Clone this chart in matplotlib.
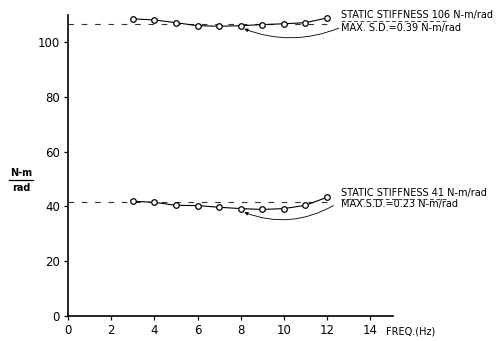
import matplotlib.pyplot as plt
from matplotlib.lines import Line2D

# Dynamic stiffness vs frequency (two test conditions)
freq = [3, 4, 5, 6, 7, 8, 9, 10, 11, 12]
stiff_high = [108.4, 108.0, 107.0, 105.9, 105.7, 105.9, 106.3, 106.6, 107.0, 108.7]
stiff_low = [41.9, 41.5, 40.4, 40.3, 39.7, 39.2, 38.9, 39.2, 40.4, 43.3]
static_high = 106.7
static_low = 41.5
x_ticks = [0, 2, 4, 6, 8, 10, 12, 14]
y_ticks = [0, 20, 40, 60, 80, 100]

plt.rcParams.update({'font.family': 'DejaVu Sans', 'font.size': 8})

fig = plt.figure(figsize=(4.97, 3.41), dpi=100)
ax = fig.add_axes([0.137, 0.073, 0.654, 0.883])

for vals, stat in [(stiff_high, static_high), (stiff_low, static_low)]:
    ax.plot([0, 12.3], [stat, stat], color='#333333', lw=0.8, dashes=(5, 7))
    ax.plot(freq, vals, '-', color='black', lw=0.8, marker='o', markersize=4,
            markerfacecolor='white', markeredgecolor='black', markeredgewidth=0.9)

ax.set_xlim(0, 15.07)
ax.set_ylim(0, 109.8)
ax.set_xticks(x_ticks)
ax.set_yticks(y_ticks)
for s in ['top', 'right']:
    ax.spines[s].set_visible(False)
for s in ['left', 'bottom']:
    ax.spines[s].set_linewidth(1.2)
ax.tick_params(axis='both', direction='out', length=3, width=0.9, labelsize=8.5, pad=3)

# annotations
txt = dict(fontsize=7, ha='left', va='center', clip_on=False)
ax.text(12.66, 109.8, 'STATIC STIFFNESS 106 N-m/rad', **txt)
ax.text(12.66, 105.0, 'MAX. S.D.=0.39 N-m/rad', **txt)
ax.text(12.66, 45.0, 'STATIC STIFFNESS 41 N-m/rad', **txt)
ax.text(12.66, 41.0, 'MAX.S.D.=0.23 N-m/rad', **txt)

arrow = dict(arrowstyle='-|>', color='black', lw=0.6, mutation_scale=5,
             connectionstyle='arc3,rad=-0.2', shrinkA=0, shrinkB=2)
ax.annotate('', xy=(8.05, 105.1), xytext=(12.55, 105.0), arrowprops=arrow,
            annotation_clip=False)
arrow['connectionstyle'] = 'arc3,rad=-0.24'
ax.annotate('', xy=(8.05, 38.2), xytext=(12.3, 40.3), arrowprops=arrow,
            annotation_clip=False)

# dashed underline under "STATIC STIFFNESS"
for y in [21, 199]:
    fig.add_artist(Line2D([341 / 497, 447 / 497], [1 - y / 341, 1 - y / 341],
                          color='#444444', lw=0.7, dashes=(4, 2.5)))

# y label as a fraction
fig.text(21 / 497, 1 - 173 / 341, 'N-m', ha='center', va='center', fontsize=7,
         fontweight='bold')
fig.text(21 / 497, 1 - 188 / 341, 'rad', ha='center', va='center', fontsize=7,
         fontweight='bold')
fig.add_artist(Line2D([9 / 497, 33 / 497], [1 - 180 / 341, 1 - 180 / 341],
                      color='black', lw=0.9))

fig.text(386 / 497, 1 - 332 / 341, 'FREQ.(Hz)', ha='left', va='center', fontsize=7)

fig.savefig('out.png', dpi=100)
